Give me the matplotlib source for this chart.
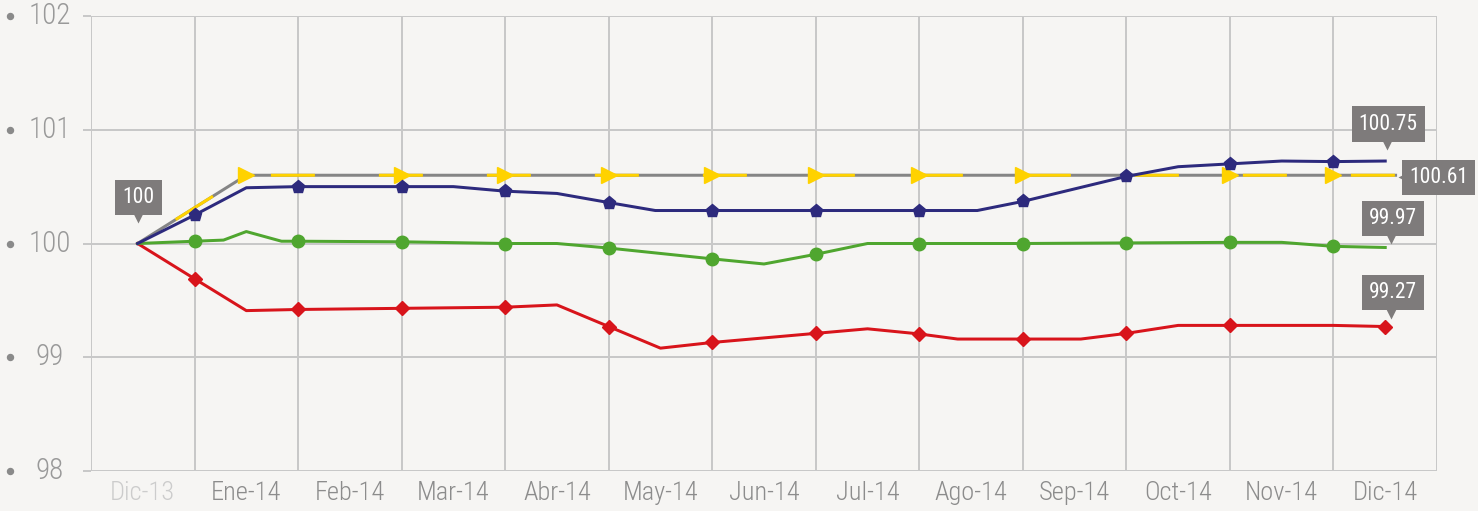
import numpy as np
import matplotlib
matplotlib.use('Agg')
import matplotlib.pyplot as plt
from matplotlib import font_manager as fm
from matplotlib.transforms import offset_copy, blended_transform_factory

# pick a narrow-ish font if one is around
names = set(f.name for f in fm.fontManager.ttflist)
font = 'DejaVu Sans'
for cand in ['Liberation Sans Narrow', 'Roboto Condensed', 'Roboto', 'Lato']:
    if cand in names:
        font = cand
        break
plt.rcParams['font.family'] = [font, 'DejaVu Sans']
plt.rcParams['lines.scale_dashes'] = False

months = ['Dic-13', 'Ene-14', 'Feb-14', 'Mar-14', 'Abr-14', 'May-14', 'Jun-14',
          'Jul-14', 'Ago-14', 'Sep-14', 'Oct-14', 'Nov-14', 'Dic-14']
yticks = [98, 99, 100, 101, 102]

# series (x in month units, gridlines at month boundaries)
blue_x = [0.45, 1, 1.5, 2, 2.5, 3, 3.5, 4, 4.5, 5, 5.45, 6, 6.5, 7, 7.5, 8, 8.56,
          9, 10, 10.5, 11, 11.5, 12, 12.5]
blue_y = [100, 100.25, 100.49, 100.5, 100.5, 100.5, 100.5, 100.46, 100.44, 100.36,
          100.29, 100.29, 100.29, 100.29, 100.29, 100.29, 100.29, 100.37, 100.59,
          100.675, 100.70, 100.725, 100.72, 100.725]
green_x = [0.45, 1, 1.28, 1.5, 1.84, 2, 3, 4, 4.5, 5, 6, 6.5, 7, 7.5, 8, 9, 10, 11,
           11.5, 12, 12.5]
green_y = [100, 100.02, 100.03, 100.105, 100.02, 100.02, 100.015, 100.0, 100.0, 99.96,
           99.865, 99.82, 99.905, 100.0, 100.0, 100.0, 100.005, 100.01, 100.01,
           99.975, 99.965]
red_x = [0.45, 1, 1.5, 2, 3, 4, 4.5, 5, 5.5, 6, 7, 7.5, 8, 8.37, 9, 9.56, 10, 10.5,
         11, 12, 12.5]
red_y = [100, 99.69, 99.41, 99.42, 99.43, 99.44, 99.46, 99.27, 99.08, 99.13, 99.21,
         99.25, 99.205, 99.16, 99.16, 99.16, 99.21, 99.28, 99.28, 99.28, 99.27]
gray_x = [0.45, 1.5, 12.6]
gray_y = [100, 100.6, 100.6]
yel_x = [0.45, 1.5, 3, 4, 5, 6, 7, 8, 9, 11, 12, 12.6]
yel_y = [100, 100.6, 100.6, 100.6, 100.6, 100.6, 100.6, 100.6, 100.6, 100.6, 100.6, 100.6]

end_labels = ['100', '100.75', '100.61', '99.97', '99.27']

bg = '#f6f5f3'
gridc = '#c8c8c8'
px = 72 / 100.0  # points per pixel

fig = plt.figure(figsize=(14.78, 5.11), dpi=100, facecolor=bg)
ax = fig.add_axes([91 / 1478, 40 / 511, 1346 / 1478, 455 / 511], facecolor=bg)

ax.set_xlim(0, 13)
ax.set_ylim(98, 102)
ax.set_xticks(range(14))
ax.set_xticklabels([])
ax.set_xticks([i + 0.5 for i in range(13)], minor=True)
ax.set_xticklabels(months, minor=True)
ax.set_yticks(yticks)
ax.set_yticklabels([])
ax.grid(True, color=gridc, lw=2 * px)
ax.set_axisbelow(True)
for s in ax.spines.values():
    s.set_visible(False)
ax.tick_params(axis='x', which='major', length=0)
ax.tick_params(axis='x', which='minor', length=0, pad=7, labelsize=19, labelcolor='#8c8c8c')
ax.tick_params(axis='y', length=8 * px, width=2 * px, color=gridc)
for lab in ax.get_xticklabels(minor=True):
    lab.set_fontweight('light')
ax.get_xticklabels(minor=True)[0].set_color('#cccccc')

# y tick labels with bullet
tr = blended_transform_factory(fig.transFigure, ax.transData)
for v in yticks:
    ax.plot([10 / 1478], [v], 'o', color='#8a8a8a', ms=6 * px, transform=tr, clip_on=False)
    ax.text(50 / 1478, v, str(v), transform=tr, ha='center', va='center', fontsize=21,
            color='#999999', fontweight='light')

lw = 3 * px
ax.plot(gray_x, gray_y, color='#858585', lw=lw, zorder=3)
yl, = ax.plot(yel_x, yel_y, color='#ffd200', lw=lw, zorder=4, marker='>', ms=12,
              markevery=list(range(1, 11)), mec='#ffd200')
yl.set_linestyle((45.4, (44 * px, 64 * px)))
ax.plot(red_x, red_y, color='#d8141b', lw=lw, zorder=5, marker='D', ms=7,
        markevery=[i for i, x in enumerate(red_x) if x in (1, 2, 3, 4, 5, 6, 7, 8, 9, 10, 11, 12.5)])
ax.plot(green_x, green_y, color='#4fa62f', lw=lw, zorder=6, marker='o', ms=9,
        markevery=[i for i, x in enumerate(green_x) if float(x).is_integer() and x >= 1])
ax.plot(blue_x, blue_y, color='#2d2a7d', lw=lw, zorder=7, marker='p', ms=9.5,
        markevery=[i for i, x in enumerate(blue_x) if float(x).is_integer() and x >= 1])

boxc = '#7e7b7b'


def callout(x, y, text, dx, dy, pdx, pdy, pm):
    ax.annotate(text, (x, y), xytext=(dx, dy), textcoords='offset pixels', ha='center',
                va='center', color='white', fontsize=15.5, zorder=10,
                bbox=dict(boxstyle='square,pad=0.33', fc=boxc, ec='none'))
    t = offset_copy(ax.transData, fig=fig, x=pdx, y=pdy, units='dots')
    ax.plot([x], [y], marker=pm, color=boxc, ms=8, mec='none', transform=t, zorder=10,
            clip_on=False)


callout(red_x[0], 100, end_labels[0], 1, 46, 0, 27, 'v')
callout(blue_x[-1], blue_y[-1], end_labels[1], 3, 37, 2, 17, 'v')
callout(gray_x[-1], gray_y[-1], end_labels[2], 43, -2, 8, -2, '<')
callout(green_x[-1], green_y[-1], end_labels[3], 8, 29, 6, 9, 'v')
callout(red_x[-1], red_y[-1], end_labels[4], 8, 34, 6, 14, 'v')

fig.savefig('out.png', dpi=100, facecolor=bg)
